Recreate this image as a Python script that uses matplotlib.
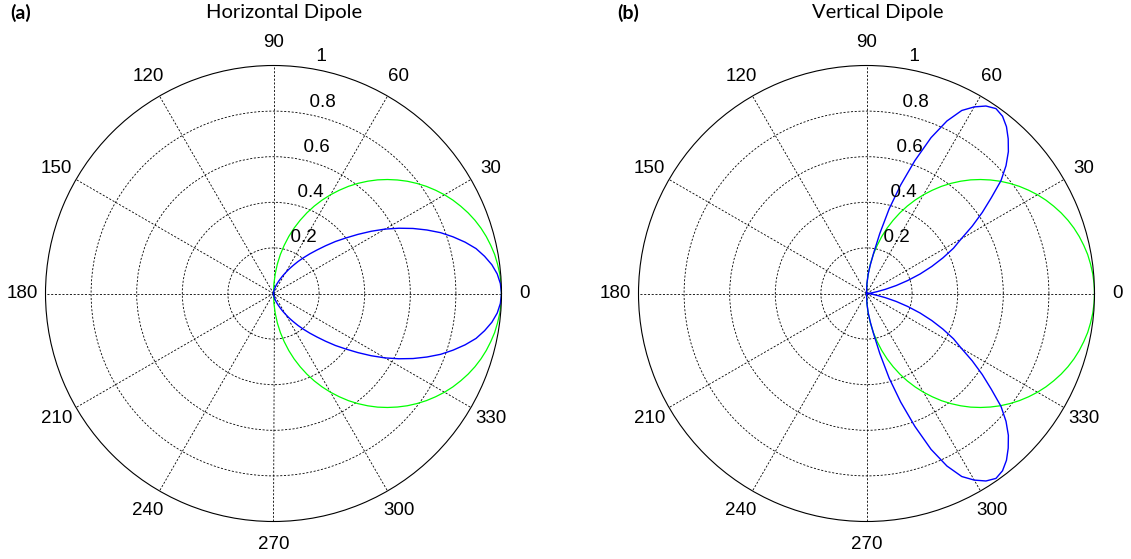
import numpy as np
import matplotlib.pyplot as plt

# angles (deg) 0..90 in 2.5 deg steps; patterns are mirrored for negative angles
ang = [0, 2.5, 5, 7.5, 10, 12.5, 15, 17.5, 20, 22.5, 25, 27.5, 30, 32.5, 35, 37.5,
       40, 42.5, 45, 47.5, 50, 52.5, 55, 57.5, 60, 62.5, 65, 67.5, 70, 72.5, 75,
       77.5, 80, 82.5, 85, 87.5, 90]
ref_cos = [1.0, 0.999, 0.996, 0.991, 0.985, 0.976, 0.966, 0.954, 0.94, 0.924,
           0.906, 0.887, 0.866, 0.843, 0.819, 0.793, 0.766, 0.737, 0.707, 0.676,
           0.643, 0.609, 0.574, 0.537, 0.5, 0.462, 0.423, 0.383, 0.342, 0.301,
           0.259, 0.216, 0.174, 0.131, 0.087, 0.044, 0.0]
horiz = [1.0, 0.996, 0.985, 0.966, 0.94, 0.91, 0.87, 0.826, 0.78, 0.728,
         0.675, 0.62, 0.565, 0.508, 0.452, 0.40, 0.355, 0.31, 0.27, 0.236,
         0.205, 0.177, 0.15, 0.127, 0.105, 0.087, 0.07, 0.057, 0.046, 0.036,
         0.027, 0.02, 0.014, 0.009, 0.005, 0.002, 0.0]
vert = [0.0, 0.003, 0.012, 0.027, 0.048, 0.085, 0.135, 0.19, 0.25, 0.31,
        0.37, 0.43, 0.48, 0.55, 0.62, 0.69, 0.77, 0.83, 0.88, 0.92,
        0.955, 0.98, 0.99, 0.975, 0.945, 0.905, 0.835, 0.74, 0.62, 0.50,
        0.385, 0.27, 0.18, 0.125, 0.085, 0.045, 0.0]

rticks = [0.2, 0.4, 0.6, 0.8, 1.0]
rtick_labels = ['0.2', '0.4', '0.6', '0.8', '1']
thetas = [0, 30, 60, 90, 120, 150, 180, 210, 240, 270, 300, 330]
titles = ['Horizontal Dipole', 'Vertical Dipole']
panel = ['(a)', '(b)']

plt.rcParams['font.family'] = ['Liberation Sans', 'DejaVu Sans']


def mirror(a, r):
    a = np.array(a, dtype=float)
    r = np.array(r, dtype=float)
    return np.deg2rad(np.concatenate([-a[::-1], a[1:]])), np.concatenate([r[::-1], r[1:]])


fig = plt.figure(figsize=(11.31, 5.59), dpi=100)
W, H = 1131, 559
R = 228
centers = [(273.5, 293.5), (866.5, 293.5)]
title_x = [284, 878]
panel_x = [21, 628]
blue = [horiz, vert]

for k in range(2):
    cx, cy = centers[k]
    ax = fig.add_axes([(cx - R) / W, (H - cy - R) / H, 2 * R / W, 2 * R / H], projection='polar')
    ax.set_ylim(0, 1)
    ax.set_xticks(np.deg2rad(thetas))
    ax.set_xticklabels([])
    ax.set_yticks(rticks[:-1])
    ax.set_yticklabels([])
    ax.tick_params(length=0)
    ax.grid(True, color='k', linestyle=(0, (2.5, 2)), linewidth=0.6)
    ax.spines['polar'].set_color('k')
    ax.spines['polar'].set_linewidth(0.8)

    t, r = mirror(ang, ref_cos)
    ax.plot(t, r, color='#00ff00', linewidth=0.9)
    t, r = mirror(ang, blue[k])
    ax.plot(t, r, color='#0000ff', linewidth=1.0)

    for th in thetas:
        ax.text(np.deg2rad(th), 1.1, str(th), ha='center', va='center', fontsize=13.5)
    for rv, lab in zip(rticks, rtick_labels):
        ax.text(np.deg2rad(82), rv + 0.01, '  ' + lab, ha='left', va='bottom', fontsize=13.5)

    fig.text(title_x[k] / W, 1 - 12.5 / H, titles[k], ha='center', va='center',
             fontsize=14.5, family='Lato')
    fig.text(panel_x[k] / W, 1 - 12.5 / H, panel[k], ha='center', va='center',
             fontsize=14, fontweight='bold', family='Lato')

fig.savefig('out.png', dpi=100)
